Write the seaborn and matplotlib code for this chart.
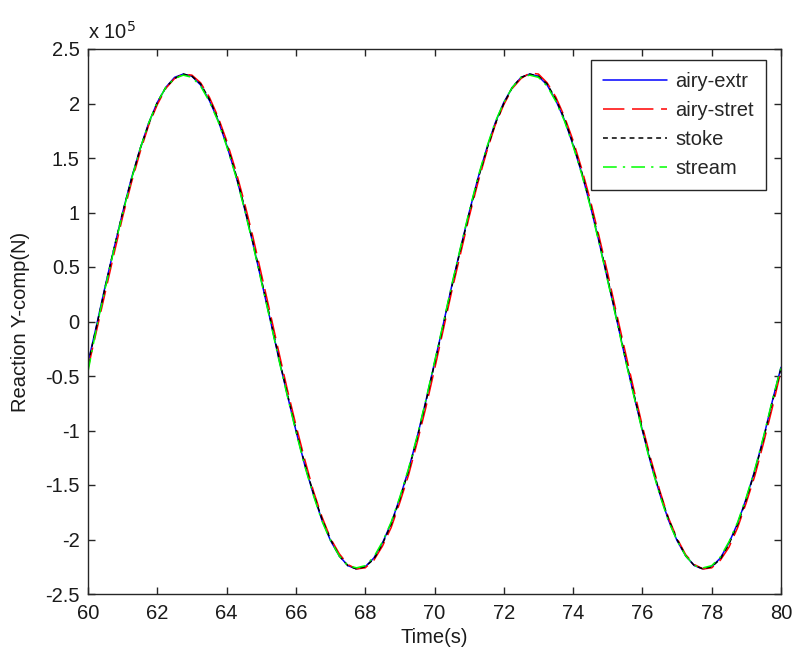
import numpy as np
import pandas as pd
import matplotlib
matplotlib.use("Agg")
import matplotlib.pyplot as plt
from matplotlib.ticker import FuncFormatter, MultipleLocator
import seaborn as sns

# Reaction force, Y component, in units of 1e5 N, sampled every 0.25 s from 60 s to 80 s
time_s = np.linspace(60.0, 80.0, 81)
SCALE = 1e5

airy_extr = [
    -0.38, -0.03, 0.33, 0.67, 1.00, 1.31, 1.58, 1.82, 2.01, 2.15, 2.24, 2.27, 2.25, 2.17,
    2.03, 1.85, 1.62, 1.36, 1.06, 0.73, 0.38, 0.03, -0.33, -0.67, -1.00, -1.31, -1.58,
    -1.82, -2.01, -2.15, -2.24, -2.27, -2.25, -2.17, -2.03, -1.85, -1.62, -1.36, -1.06,
    -0.73, -0.38,
    -0.03, 0.33, 0.67, 1.00, 1.31, 1.58, 1.82, 2.01, 2.15, 2.24, 2.27, 2.25, 2.17, 2.03,
    1.85, 1.62, 1.36, 1.06, 0.73, 0.38, 0.03, -0.33, -0.67, -1.00, -1.31, -1.58, -1.82,
    -2.01, -2.15, -2.24, -2.27, -2.25, -2.17, -2.03, -1.85, -1.62, -1.36, -1.06, -0.73,
    -0.42,
]
airy_stret = [
    -0.43, -0.08, 0.27, 0.62, 0.96, 1.27, 1.55, 1.80, 1.99, 2.14, 2.23, 2.27, 2.26, 2.19,
    2.06, 1.88, 1.66, 1.40, 1.11, 0.79, 0.44, 0.09, -0.27, -0.62, -0.95, -1.26, -1.55,
    -1.79, -1.99, -2.13, -2.23, -2.27, -2.26, -2.19, -2.06, -1.89, -1.66, -1.41, -1.11,
    -0.79, -0.44,
    -0.08, 0.28, 0.62, 0.96, 1.27, 1.55, 1.80, 1.99, 2.14, 2.23, 2.28, 2.27, 2.19, 2.06,
    1.88, 1.66, 1.40, 1.11, 0.78, 0.44, 0.08, -0.27, -0.62, -0.96, -1.27, -1.55, -1.80,
    -1.99, -2.14, -2.23, -2.27, -2.26, -2.19, -2.07, -1.89, -1.66, -1.41, -1.11, -0.79,
    -0.45,
]
stoke = [
    -0.39, -0.04, 0.32, 0.67, 1.00, 1.30, 1.58, 1.81, 2.01, 2.15, 2.23, 2.27, 2.25, 2.18,
    2.04, 1.86, 1.63, 1.37, 1.07, 0.74, 0.39, 0.04, -0.32, -0.66, -0.99, -1.30, -1.57,
    -1.81, -2.00, -2.15, -2.24, -2.27, -2.25, -2.18, -2.04, -1.86, -1.63, -1.37, -1.07,
    -0.74, -0.39,
    -0.04, 0.32, 0.66, 0.99, 1.30, 1.57, 1.81, 2.00, 2.15, 2.24, 2.27, 2.25, 2.18, 2.04,
    1.86, 1.63, 1.37, 1.07, 0.74, 0.39, 0.04, -0.32, -0.66, -0.99, -1.30, -1.57, -1.81,
    -2.00, -2.15, -2.24, -2.27, -2.25, -2.18, -2.04, -1.86, -1.63, -1.37, -1.07, -0.74,
    -0.43,
]
stream = [
    -0.46, -0.05, 0.31, 0.66, 0.99, 1.30, 1.58, 1.82, 2.01, 2.15, 2.23, 2.26, 2.24, 2.16,
    2.02, 1.84, 1.61, 1.35, 1.05, 0.72, 0.37, 0.02, -0.34, -0.68, -1.01, -1.32, -1.59,
    -1.83, -2.01, -2.15, -2.24, -2.26, -2.24, -2.16, -2.02, -1.84, -1.61, -1.35, -1.05,
    -0.72, -0.37,
    -0.02, 0.34, 0.68, 1.01, 1.32, 1.59, 1.83, 2.01, 2.15, 2.24, 2.26, 2.24, 2.16, 2.02,
    1.84, 1.61, 1.35, 1.05, 0.72, 0.37, 0.02, -0.34, -0.68, -1.01, -1.32, -1.59, -1.83,
    -2.01, -2.15, -2.24, -2.26, -2.24, -2.16, -2.02, -1.84, -1.61, -1.35, -1.05, -0.72,
    -0.42,
]

case_names = ["airy-extr", "airy-stret", "stoke", "stream"]
series = [airy_extr, airy_stret, stoke, stream]

frames = [
    pd.DataFrame({"Time": time_s, "Force": np.asarray(vals) * SCALE, "Case": name})
    for name, vals in zip(case_names, series)
]
df = pd.concat(frames, ignore_index=True)

palette = {"airy-extr": "#0000ff", "airy-stret": "#ff0000", "stoke": "#000000", "stream": "#00ff00"}
dashes = {"airy-extr": "", "airy-stret": (14, 5), "stoke": (3.2, 2.6), "stream": (9, 4, 1.5, 4)}

sns.set_theme(style="white")
plt.rcParams["font.family"] = ["Liberation Sans", "DejaVu Sans"]
plt.rcParams["font.size"] = 14.5

fig = plt.figure(figsize=(7.95, 6.52), dpi=100, facecolor="white")
ax = fig.add_axes([88 / 795, 1 - 594 / 652, (781 - 88) / 795, (594 - 49) / 652])

sns.lineplot(
    data=df, x="Time", y="Force", hue="Case", style="Case",
    palette=palette, dashes=dashes, hue_order=case_names, style_order=case_names,
    linewidth=1.1, ax=ax, legend=True,
)

ax.set_xlim(60, 80)
ax.set_ylim(-2.5 * SCALE, 2.5 * SCALE)
ax.xaxis.set_major_locator(MultipleLocator(2))
ax.yaxis.set_major_locator(MultipleLocator(0.5 * SCALE))
ax.yaxis.set_major_formatter(FuncFormatter(lambda v, _: f"{v / SCALE:g}"))

for side in ["left", "right", "top", "bottom"]:
    ax.spines[side].set_visible(True)
    ax.spines[side].set_color("#262626")
    ax.spines[side].set_linewidth(1.0)

ax.tick_params(axis="both", which="major", direction="in", length=5, width=1.0,
               color="#262626", labelsize=14.5, labelcolor="#1a1a1a",
               top=True, right=True, bottom=True, left=True)
ax.tick_params(axis="x", pad=7)
ax.tick_params(axis="y", pad=6)

ax.set_xlabel("Time(s)", fontsize=14.5, color="#1a1a1a", labelpad=4)
ax.set_ylabel("Reaction Y-comp(N)", fontsize=14.5, color="#1a1a1a", labelpad=11)

fig.text(88 / 795, 1 - 32 / 652, r"x 10$^{5}$", fontsize=14.5, color="#1a1a1a",
         ha="left", va="center")

handles, labels = ax.get_legend_handles_labels()
leg = ax.legend(handles, labels, loc="upper right",
                bbox_to_anchor=(766 / 795, 1 - 60 / 652), bbox_transform=fig.transFigure,
                fontsize=14.5, frameon=True, fancybox=False, framealpha=1.0,
                edgecolor="#262626", handlelength=3.2, handletextpad=0.4,
                labelspacing=0.5, borderpad=0.6, borderaxespad=0.0)
leg.get_frame().set_linewidth(1.0)
for line in leg.get_lines():
    line.set_linewidth(1.1)

fig.savefig("out.png", dpi=100, facecolor="white")
